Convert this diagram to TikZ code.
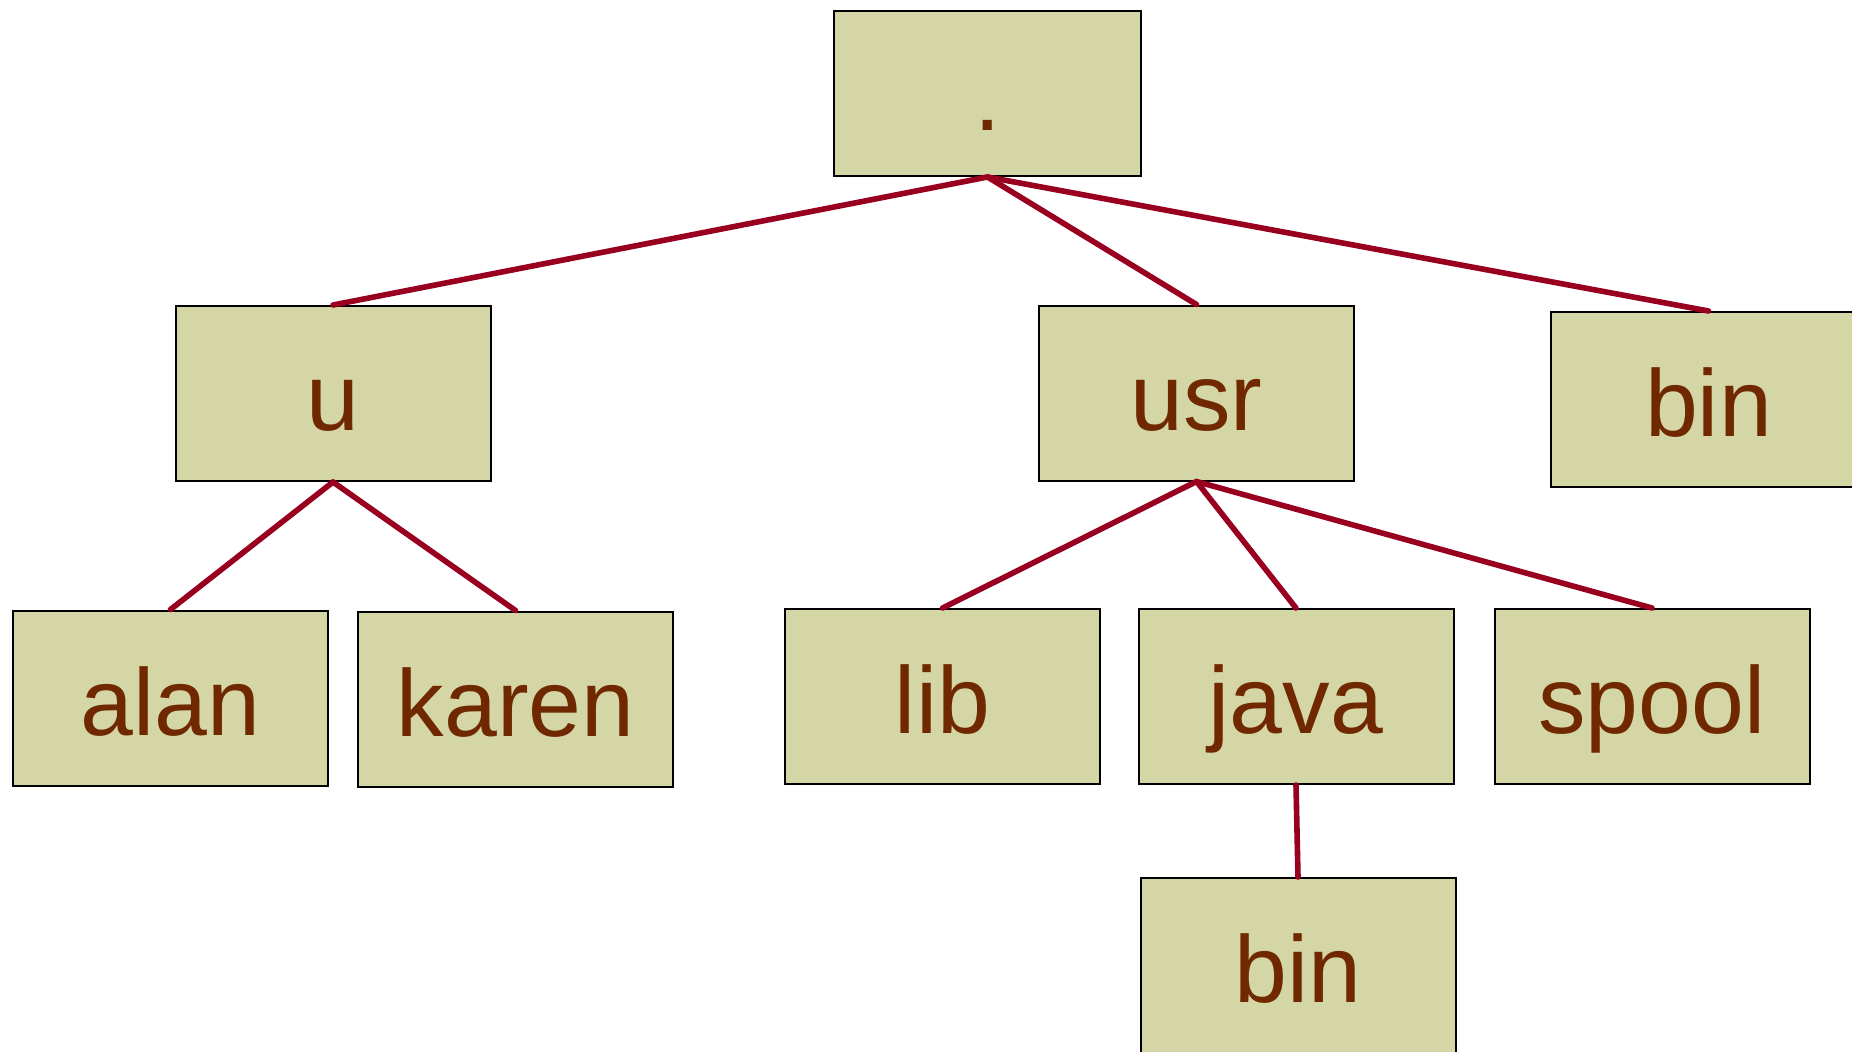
\documentclass[tikz,border=0pt]{standalone}
\usepackage{fontspec}
\setmainfont{Liberation Sans}
\definecolor{boxfill}{RGB}{212,214,165}
\definecolor{labeltext}{RGB}{112,40,0}
\definecolor{edgered}{RGB}{153,0,32}
\begin{document}
\begin{tikzpicture}[x=0.5pt,y=-0.5pt,
  dirbox/.style={draw=black, line width=1pt, fill=boxfill, inner sep=0pt,
    minimum width=157.5pt, minimum height=87.5pt,
    text height=37pt, text depth=0pt, text=labeltext,
    font=\fontsize{47.5}{57}\selectfont},
  edge/.style={draw=edgered, line width=2.8pt, line cap=round}]
  \useasboundingbox (0,0) rectangle (1852,1051);
  \clip (0,0) rectangle (1852,1051);
  % directory boxes
  \node[dirbox, minimum width=153.5pt, minimum height=82.5pt] (root) at (987.5,93.5) {.};
  \node[dirbox] (u)     at (333,393.5)   {u};
  \node[dirbox] (usr)   at (1196.5,393)  {usr};
  \node[dirbox] (binr)  at (1708.5,399.5){bin};
  \node[dirbox] (alan)  at (170.5,698)   {alan};
  \node[dirbox] (karen) at (515.5,699)   {karen};
  \node[dirbox] (lib)   at (942.5,696.5) {lib};
  \node[dirbox] (java)  at (1296,696.5)  {java};
  \node[dirbox] (spool) at (1652,696.5)  {spool};
  \node[dirbox] (binj)  at (1298,965.5)  {bin};
  % tree edges
  \draw[edge] (root.south) -- (u.north);
  \draw[edge] (root.south) -- (usr.north);
  \draw[edge] (root.south) -- (binr.north);
  \draw[edge] (u.south) -- (alan.north);
  \draw[edge] (u.south) -- (karen.north);
  \draw[edge] (usr.south) -- (lib.north);
  \draw[edge] (usr.south) -- (java.north);
  \draw[edge] (usr.south) -- (spool.north);
  \draw[edge] (java.south) -- (binj.north);
\end{tikzpicture}
\end{document}
